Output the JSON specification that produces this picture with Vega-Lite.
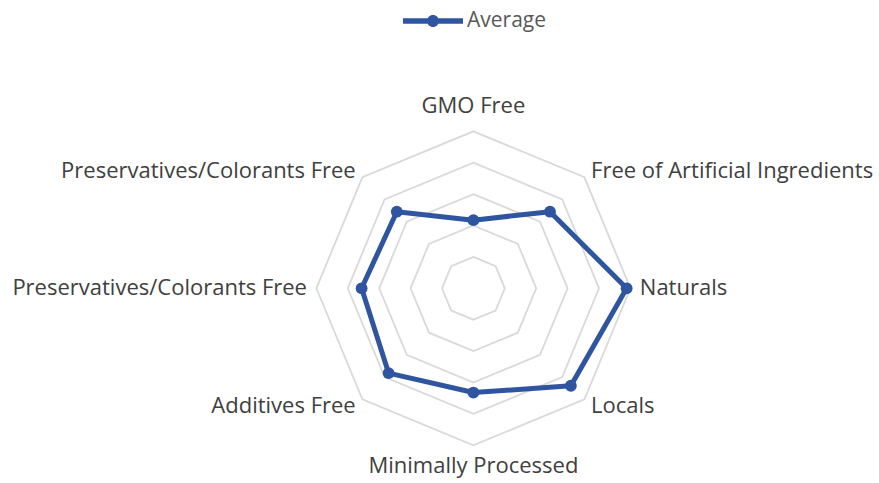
{
  "$schema": "https://vega.github.io/schema/vega-lite/v6.json",
  "width": 879,
  "height": 483,
  "autosize": "none",
  "padding": 0,
  "background": "white",
  "config": {"view": {"stroke": null}},
  "data": {
    "values": [
      {"i": 0, "category": "GMO Free", "value": 2.17, "series": "Average", "levels": [1, 2, 3, 4, 5]},
      {"i": 1, "category": "Free of Artificial Ingredients", "value": 3.45, "series": "Average", "levels": [1, 2, 3, 4, 5]},
      {"i": 2, "category": "Naturals", "value": 4.88, "series": "Average", "levels": [1, 2, 3, 4, 5]},
      {"i": 3, "category": "Locals", "value": 4.39, "series": "Average", "levels": [1, 2, 3, 4, 5]},
      {"i": 4, "category": "Minimally Processed", "value": 3.32, "series": "Average", "levels": [1, 2, 3, 4, 5]},
      {"i": 5, "category": "Additives Free", "value": 3.82, "series": "Average", "levels": [1, 2, 3, 4, 5]},
      {"i": 6, "category": "Preservatives/Colorants Free", "value": 3.56, "series": "Average", "levels": [1, 2, 3, 4, 5]},
      {"i": 7, "category": "Preservatives/Colorants Free", "value": 3.45, "series": "Average", "levels": [1, 2, 3, 4, 5]}
    ]
  },
  "transform": [{"calculate": "datum.i * PI / 4", "as": "theta"}],
  "layer": [
    {
      "transform": [
        {"flatten": ["levels"], "as": ["level"]},
        {"calculate": "datum.level * sin(datum.theta)", "as": "px"},
        {"calculate": "datum.level * cos(datum.theta)", "as": "py"}
      ],
      "mark": {"type": "line", "interpolate": "linear-closed", "color": "#d9d9d9", "strokeWidth": 1.8},
      "encoding": {
        "x": {"field": "px", "type": "quantitative", "scale": {"domain": [-15.076, 12.917], "nice": false, "zero": false}, "axis": null},
        "y": {"field": "py", "type": "quantitative", "scale": {"domain": [-6.201, 9.182], "nice": false, "zero": false}, "axis": null},
        "detail": {"field": "level", "type": "nominal"},
        "order": {"field": "i", "type": "quantitative"}
      }
    },
    {
      "transform": [
        {"calculate": "datum.value * sin(datum.theta)", "as": "px"},
        {"calculate": "datum.value * cos(datum.theta)", "as": "py"}
      ],
      "mark": {"type": "line", "interpolate": "linear-closed", "color": "#2f55a0", "strokeWidth": 5, "strokeJoin": "round"},
      "encoding": {
        "x": {"field": "px", "type": "quantitative", "scale": {"domain": [-15.076, 12.917], "nice": false, "zero": false}, "axis": null},
        "y": {"field": "py", "type": "quantitative", "scale": {"domain": [-6.201, 9.182], "nice": false, "zero": false}, "axis": null},
        "order": {"field": "i", "type": "quantitative"}
      }
    },
    {
      "transform": [
        {"calculate": "datum.value * sin(datum.theta)", "as": "px"},
        {"calculate": "datum.value * cos(datum.theta)", "as": "py"}
      ],
      "mark": {"type": "point", "shape": "circle", "filled": true, "size": 140, "opacity": 1},
      "encoding": {
        "x": {"field": "px", "type": "quantitative", "scale": {"domain": [-15.076, 12.917], "nice": false, "zero": false}, "axis": null},
        "y": {"field": "py", "type": "quantitative", "scale": {"domain": [-6.201, 9.182], "nice": false, "zero": false}, "axis": null},
        "color": {
          "field": "series",
          "type": "nominal",
          "scale": {"domain": ["Average"], "range": ["#2f55a0"]},
          "legend": {
            "title": null,
            "orient": "none",
            "legendX": 403,
            "legendY": -9,
            "padding": 0,
            "symbolType": "M-1,-0.09H1V0.09H-1Z M-0.2,0A0.2,0.2 0 1,1 0.2,0A0.2,0.2 0 1,1 -0.2,0Z",
            "symbolSize": 3600,
            "symbolOpacity": 1,
            "symbolStrokeWidth": 0,
            "labelFont": "Open Sans",
            "labelFontSize": 21,
            "labelColor": "#595959",
            "labelOffset": 4
          }
        }
      }
    },
    {
      "transform": [
        {"filter": "datum.i >= 1 && datum.i <= 3"},
        {"calculate": "5.3 * sin(datum.theta)", "as": "px"},
        {"calculate": "5.3 * cos(datum.theta)", "as": "py"}
      ],
      "mark": {"type": "text", "align": "left", "baseline": "middle", "font": "Open Sans", "fontSize": 22, "color": "#404040"},
      "encoding": {
        "x": {"field": "px", "type": "quantitative", "scale": {"domain": [-15.076, 12.917], "nice": false, "zero": false}, "axis": null},
        "y": {"field": "py", "type": "quantitative", "scale": {"domain": [-6.201, 9.182], "nice": false, "zero": false}, "axis": null},
        "text": {"field": "category"}
      }
    },
    {
      "transform": [
        {"filter": "datum.i >= 5"},
        {"calculate": "5.3 * sin(datum.theta)", "as": "px"},
        {"calculate": "5.3 * cos(datum.theta)", "as": "py"}
      ],
      "mark": {"type": "text", "align": "right", "baseline": "middle", "font": "Open Sans", "fontSize": 22, "color": "#404040"},
      "encoding": {
        "x": {"field": "px", "type": "quantitative", "scale": {"domain": [-15.076, 12.917], "nice": false, "zero": false}, "axis": null},
        "y": {"field": "py", "type": "quantitative", "scale": {"domain": [-6.201, 9.182], "nice": false, "zero": false}, "axis": null},
        "text": {"field": "category"}
      }
    },
    {
      "transform": [
        {"filter": "datum.i == 0"},
        {"calculate": "5.3 * sin(datum.theta)", "as": "px"},
        {"calculate": "5.3 * cos(datum.theta)", "as": "py"}
      ],
      "mark": {"type": "text", "align": "center", "baseline": "bottom", "dy": -4, "font": "Open Sans", "fontSize": 22, "color": "#404040"},
      "encoding": {
        "x": {"field": "px", "type": "quantitative", "scale": {"domain": [-15.076, 12.917], "nice": false, "zero": false}, "axis": null},
        "y": {"field": "py", "type": "quantitative", "scale": {"domain": [-6.201, 9.182], "nice": false, "zero": false}, "axis": null},
        "text": {"field": "category"}
      }
    },
    {
      "transform": [
        {"filter": "datum.i == 4"},
        {"calculate": "5.3 * sin(datum.theta)", "as": "px"},
        {"calculate": "5.3 * cos(datum.theta)", "as": "py"}
      ],
      "mark": {"type": "text", "align": "center", "baseline": "top", "dy": 1, "font": "Open Sans", "fontSize": 22, "color": "#404040"},
      "encoding": {
        "x": {"field": "px", "type": "quantitative", "scale": {"domain": [-15.076, 12.917], "nice": false, "zero": false}, "axis": null},
        "y": {"field": "py", "type": "quantitative", "scale": {"domain": [-6.201, 9.182], "nice": false, "zero": false}, "axis": null},
        "text": {"field": "category"}
      }
    }
  ]
}
